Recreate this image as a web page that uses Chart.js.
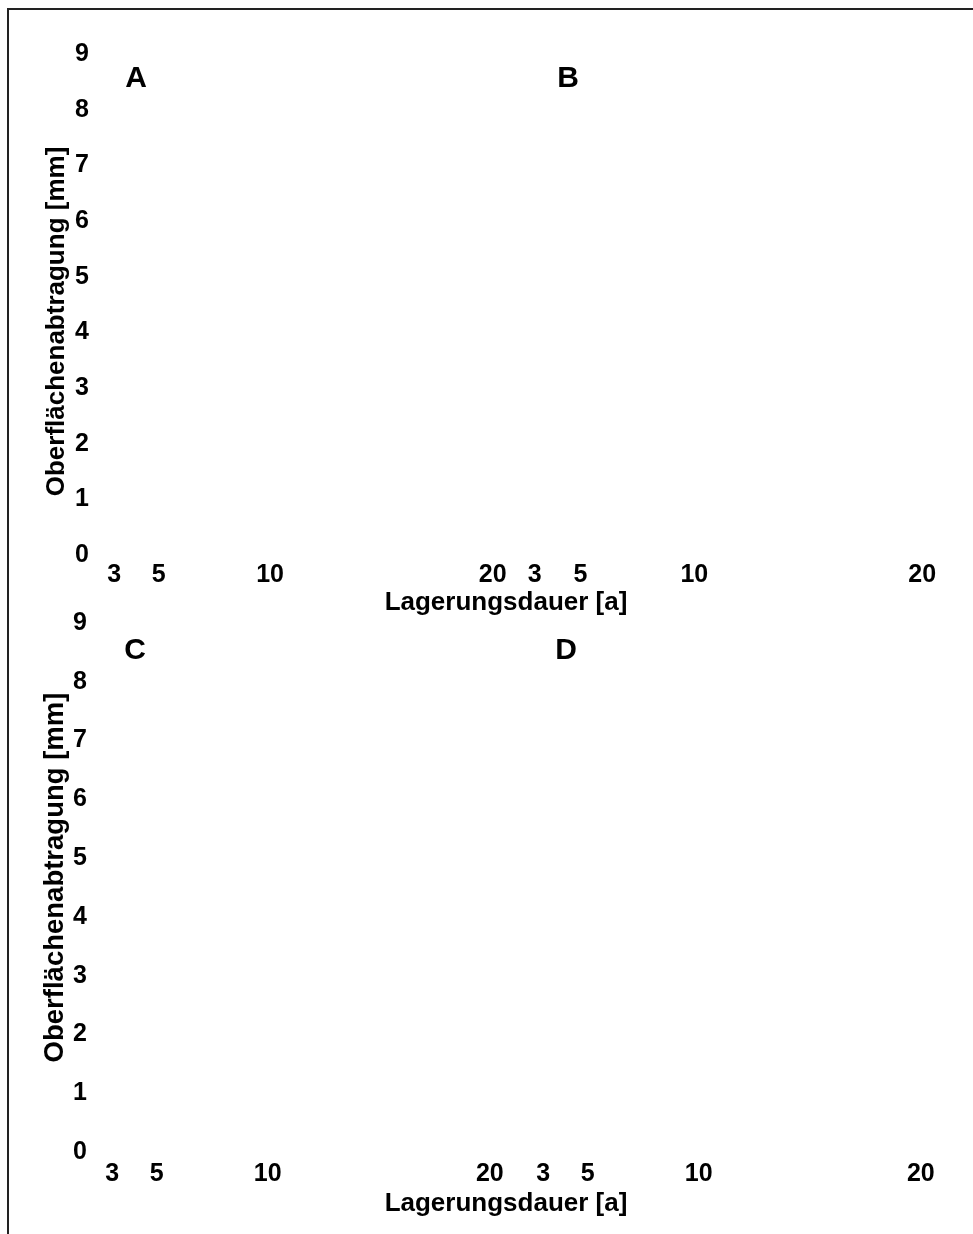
<!DOCTYPE html>
<html>
<head>
  <meta charset="utf-8">
  <script src="https://cdn.jsdelivr.net/npm/chart.js@4.4.1/dist/chart.umd.min.js"></script>
  <title>Oberflächenabtragung</title>
  <style>
    body { margin: 0; background: #fff; width: 973px; height: 1234px; overflow: hidden; position: relative; }
    #frame { position: absolute; left: 7px; top: 8px; width: 1000px; height: 1300px;
             border-top: 2px solid #222; border-left: 2px solid #222; }
    canvas { position: absolute; }
    .xtitle { position: absolute; left: 306px; width: 400px; text-align: center;
              font: bold 26px "Liberation Sans", Arial, sans-serif; line-height: 26px; color: #000; }
  </style>
</head>
<body>
  <div id="frame"></div>

  <canvas id="panelA" style="left:30px; top:32px;" width="495" height="563"></canvas>
  <canvas id="panelB" style="left:502px; top:32px;" width="453" height="563"></canvas>
  <canvas id="panelC" style="left:28px; top:601px;" width="494" height="591"></canvas>
  <canvas id="panelD" style="left:511px; top:601px;" width="442" height="591"></canvas>

  <div class="xtitle" style="top:588px;">Lagerungsdauer [a]</div>
  <div class="xtitle" style="top:1189px;">Lagerungsdauer [a]</div>

  <script>
    // axis ticks
    const xTicks = [3, 5, 10, 20];
    const xMin = 2, xMax = 21;
    const yMin = 0, yMax = 9;
    const yTitle = "Oberflächenabtragung [mm]";

    // panels (no measured values shown in the figure)
    const panelLabels = ["A", "B", "C", "D"];
    const seriesA = [];
    const seriesB = [];
    const seriesC = [];
    const seriesD = [];

    Chart.defaults.font.family = '"Liberation Sans", Arial, sans-serif';
    Chart.defaults.font.weight = "bold";
    Chart.defaults.color = "#000";

    // panel letter inside the plot area + rotated y title left of the ticks
    const panelTextPlugin = {
      id: "panelText",
      afterDraw(chart, args, opts) {
        const a = chart.chartArea;
        const ctx = chart.ctx;
        ctx.save();
        ctx.fillStyle = "#000";
        ctx.textAlign = "center";
        ctx.textBaseline = "middle";
        ctx.font = 'bold 30px "Liberation Sans", Arial, sans-serif';
        ctx.fillText(opts.text, a.left + opts.dx, a.top + opts.dy);
        if (opts.yTitle) {
          ctx.font = 'bold ' + opts.yTitleSize + 'px "Liberation Sans", Arial, sans-serif';
          ctx.translate(opts.yTitleX, (a.top + a.bottom) / 2 + opts.yTitleDy);
          ctx.rotate(-Math.PI / 2);
          ctx.fillText(opts.yTitle, 0, 0);
        }
        ctx.restore();
      }
    };

    function makePanel(id, label, data, cfg) {
      const ctx = document.getElementById(id).getContext("2d");
      return new Chart(ctx, {
        type: "line",
        data: {
          datasets: [{
            label: label,
            data: data,
            borderColor: "#000",
            borderWidth: 2,
            fill: false
          }]
        },
        options: {
          responsive: false,
          animation: false,
          layout: { padding: cfg.padding },
          plugins: {
            legend: { display: false },
            tooltip: { enabled: false },
            panelText: {
              text: label, dx: cfg.dx, dy: cfg.dy,
              yTitle: cfg.showY ? yTitle : null,
              yTitleSize: cfg.yTitleSize, yTitleX: 27, yTitleDy: cfg.yTitleDy
            }
          },
          scales: {
            x: {
              type: "linear",
              min: xMin,
              max: xMax,
              grid: { display: false, drawTicks: false },
              border: { display: false },
              ticks: { font: { size: 25, weight: "bold" }, padding: cfg.xPad, maxRotation: 0 },
              afterBuildTicks(scale) {
                scale.ticks = xTicks.map(v => ({ value: v }));
              },
              afterFit(scale) { scale.height = 40; }
            },
            y: {
              display: cfg.showY,
              min: yMin,
              max: yMax,
              grid: { display: false, drawTicks: false },
              border: { display: false },
              ticks: { stepSize: 1, font: { size: 25, weight: "bold" }, padding: 3 },
              afterFit(scale) { scale.width = cfg.showY ? 62 : 0; }
            }
          }
        },
        plugins: [panelTextPlugin]
      });
    }

    makePanel("panelA", panelLabels[0], seriesA,
      { showY: true, padding: { top: 22, right: 10, left: 0, bottom: 0 }, xPad: 5, dx: 44, dy: 25,
        yTitleSize: 26, yTitleDy: 17 });
    makePanel("panelB", panelLabels[1], seriesB,
      { showY: false, padding: { top: 22, right: 10, left: 10, bottom: 0 }, xPad: 5, dx: 56, dy: 25 });
    makePanel("panelC", panelLabels[2], seriesC,
      { showY: true, padding: { top: 22, right: 10, left: 0, bottom: 0 }, xPad: 7, dx: 45, dy: 28,
        yTitleSize: 27.5, yTitleDy: -10 });
    makePanel("panelD", panelLabels[3], seriesD,
      { showY: false, padding: { top: 22, right: 10, left: 10, bottom: 0 }, xPad: 7, dx: 45, dy: 28 });
  </script>
</body>
</html>
